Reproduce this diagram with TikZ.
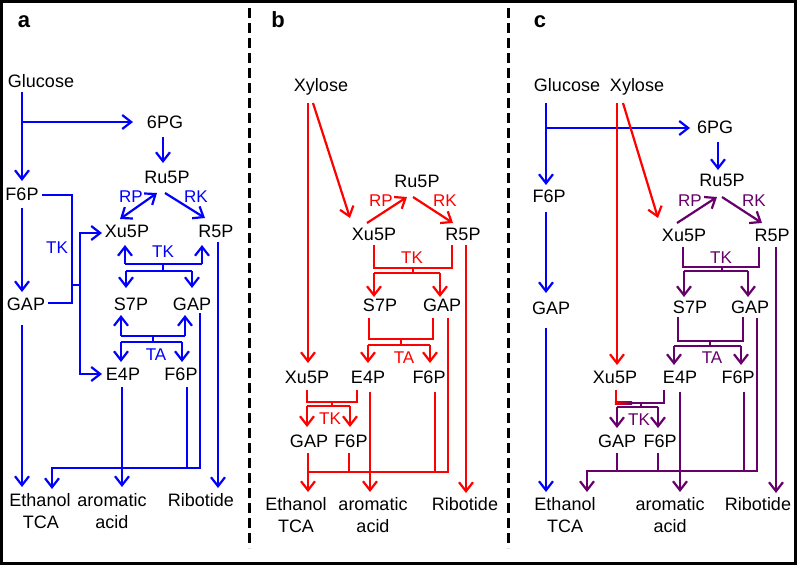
\documentclass[tikz,border=0pt]{standalone}
\usepackage{fontspec}
\setmainfont{Liberation Sans}
\usetikzlibrary{arrows.meta}
\definecolor{cb}{RGB}{0,0,255}
\definecolor{cr}{RGB}{255,0,0}
\definecolor{cp}{RGB}{102,0,106}
\begin{document}
\begin{tikzpicture}[x=1pt,y=-1pt,
  txt/.style={anchor=base, inner sep=0pt, font=\fontsize{18}{20}\selectfont},
  lbl/.style={anchor=base, inner sep=0pt, font=\fontsize{17}{19}\selectfont},
  pan/.style={anchor=base, inner sep=0pt, font=\fontsize{22}{24}\selectfont\bfseries},
  ln/.style={line width=2.2pt},
  ar/.style={ln, -{Straight Barb[length=9pt,width=14pt]}},
  arb/.style={ln, {Straight Barb[length=9pt,width=14pt]}-{Straight Barb[length=9pt,width=14pt]}},
  sep/.style={line width=3pt, dash pattern=on 10pt off 5pt}
]
\useasboundingbox (0,0) rectangle (797,566);
\fill[white] (0,0) rectangle (797,566);
\draw[line width=2.5pt] (1.5,1.5) rectangle (795.5,563.5);
\draw[sep] (249,8) -- (249,548);
\draw[sep] (508,8) -- (508,548);
\node[pan] (la) at (24,27) {a};
\node[pan] (lb) at (278,27) {b};
\node[pan] (lc) at (540,27) {c};

% ---------------- panel a ----------------
\node[txt] (aglc) at (41,87) {Glucose};
\node[txt] (a6pg) at (165,128) {6PG};
\node[txt] (aru5p) at (167,183) {Ru5P};
\node[txt] (af6p) at (22,200) {F6P};
\node[txt] (axu5p) at (127,237) {Xu5P};
\node[txt] (ar5p) at (216,237) {R5P};
\node[txt] (agap) at (26,310) {GAP};
\node[txt] (as7p) at (131,310) {S7P};
\node[txt] (agap2) at (192,310) {GAP};
\node[txt] (ae4p) at (123,380) {E4P};
\node[txt] (af6p2) at (181,380) {F6P};
\node[txt] (aeth) at (40,506) {Ethanol};
\node[txt] (atca) at (41,528) {TCA};
\node[txt] (aaro) at (112,506) {aromatic};
\node[txt] (aacid) at (112,528) {acid};
\node[txt] (arib) at (201,506) {Ribotide};
\begin{scope}[cb]
\node[lbl] (arp) at (131,202) {RP};
\node[lbl] (ark) at (196,202) {RK};
\node[lbl] (atk1) at (57,253) {TK};
\node[lbl] (atk2) at (163,257) {TK};
\node[lbl] (ata) at (156,360) {TA};
\draw[ar] (22,92) -- (22,181);
\draw[ar] (22,122) -- (133,122);
\draw[ar] (163,137) -- (163,163);
\draw[ar] (22,208) -- (22,292);
\draw[ar] (22,325) -- (22,487);
\draw[ln] (42,195) -- (72,195) -- (72,303) -- (48,303);
\draw[ln] (72,285) -- (80,285);
\draw[arb] (102,233) -- (80,233) -- (80,374) -- (102,374);
\draw[arb] (120,219) -- (157,193);
\draw[ar] (165,193) -- (205,218);
\draw[ln] (125,264) -- (202,264);
\draw[ar] (125,264) -- (125,245);
\draw[ar] (202,264) -- (202,245);
\draw[ln] (163,264) -- (163,271);
\draw[ln] (126,271) -- (192,271);
\draw[ar] (126,271) -- (126,288);
\draw[ar] (192,271) -- (192,288);
\draw[ln] (121,336) -- (185,336);
\draw[ar] (121,336) -- (121,315);
\draw[ar] (185,336) -- (185,315);
\draw[ln] (153,336) -- (153,342);
\draw[ln] (121,342) -- (182,342);
\draw[ar] (121,342) -- (121,362);
\draw[ar] (182,342) -- (182,362);
\draw[ar] (122,387) -- (122,487);
\draw[ln] (187,387) -- (187,468);
\draw[ar] (200,313) -- (200,468) -- (52,468) -- (52,489);
\draw[ar] (218,242) -- (218,488);
\end{scope}

% ---------------- panel b ----------------
\node[txt] (bxyl) at (321,91) {Xylose};
\node[txt] (bru5p) at (417,187) {Ru5P};
\node[txt] (bxu5p) at (374,240) {Xu5P};
\node[txt] (br5p) at (463,240) {R5P};
\node[txt] (bs7p) at (380,311) {S7P};
\node[txt] (bgap2) at (442,311) {GAP};
\node[txt] (bxu5p2) at (307,383) {Xu5P};
\node[txt] (be4p) at (368,383) {E4P};
\node[txt] (bf6p2) at (429,383) {F6P};
\node[txt] (bgap3) at (309,447) {GAP};
\node[txt] (bf6p3) at (351,447) {F6P};
\node[txt] (beth) at (296,510) {Ethanol};
\node[txt] (btca) at (296,532) {TCA};
\node[txt] (baro) at (373,510) {aromatic};
\node[txt] (bacid) at (373,532) {acid};
\node[txt] (brib) at (465,510) {Ribotide};
\begin{scope}[cr]
\node[lbl] (brp) at (381,206) {RP};
\node[lbl] (brk) at (445,206) {RK};
\node[lbl] (btk1) at (412,263) {TK};
\node[lbl] (bta) at (404,363) {TA};
\node[lbl] (btk2) at (330,424) {TK};
\draw[ar] (308,103) -- (308,363);
\draw[ar] (313,103) -- (350,218);
\draw[ar] (367,223) -- (407,197);
\draw[ar] (413,197) -- (453,223);
\draw[ln] (374,245) -- (374,268) -- (452,268) -- (452,245);
\draw[ln] (413,268) -- (413,273);
\draw[ln] (374,273) -- (440,273);
\draw[ar] (374,273) -- (374,297);
\draw[ar] (440,273) -- (440,297);
\draw[ar] (466,245) -- (466,493);
\draw[ln] (369,318) -- (369,339) -- (433,339) -- (433,318);
\draw[ln] (401,339) -- (401,345);
\draw[ln] (368,345) -- (430,345);
\draw[ar] (368,345) -- (368,363);
\draw[ar] (430,345) -- (430,363);
\draw[ln] (307,390) -- (307,402) -- (357,402) -- (357,390);
\draw[ln] (332,402) -- (332,406);
\draw[ln] (307,406) -- (350,406);
\draw[ar] (307,406) -- (307,427);
\draw[ar] (350,406) -- (350,427);
\draw[ar] (370,392) -- (370,492);
\draw[ln] (435,392) -- (435,472);
\draw[ar] (448,318) -- (448,472) -- (308,472) -- (308,492);
\draw[ln] (308,453) -- (308,472);
\draw[ln] (349,453) -- (349,472);
\end{scope}

% ---------------- panel c ----------------
\node[txt] (cglc) at (567,91) {Glucose};
\node[txt] (cxyl) at (637,91) {Xylose};
\node[txt] (c6pg) at (715,133) {6PG};
\node[txt] (cru5p) at (722,186) {Ru5P};
\node[txt] (cf6p) at (549,202) {F6P};
\node[txt] (cxu5p) at (684,241) {Xu5P};
\node[txt] (cr5p) at (772,241) {R5P};
\node[txt] (cgap) at (551,314) {GAP};
\node[txt] (cs7p) at (690,313) {S7P};
\node[txt] (cgap2) at (750,313) {GAP};
\node[txt] (cxu5p2) at (615,383) {Xu5P};
\node[txt] (ce4p) at (680,383) {E4P};
\node[txt] (cf6p2) at (738,383) {F6P};
\node[txt] (cgap3) at (617,447) {GAP};
\node[txt] (cf6p3) at (660,447) {F6P};
\node[txt] (ceth) at (565,510) {Ethanol};
\node[txt] (ctca) at (565,532) {TCA};
\node[txt] (caro) at (670,510) {aromatic};
\node[txt] (cacid) at (670,532) {acid};
\node[txt] (crib) at (758,510) {Ribotide};
\begin{scope}[cb]
\draw[ar] (546,103) -- (546,185);
\draw[ar] (546,128) -- (690,128);
\draw[ar] (718,142) -- (718,170);
\draw[ar] (546,212) -- (546,293);
\draw[ar] (546,328) -- (546,492);
\end{scope}
\begin{scope}[cr]
\draw[ar] (617,103) -- (617,365);
\draw[ar] (623,103) -- (658,218);
\draw[ln] (616,390) -- (616,404);
\end{scope}
\shade[left color=cr, right color=cp] (614.9,401.9) rectangle (632,404.1);
\begin{scope}[cp]
\node[lbl] (crp) at (690,206) {RP};
\node[lbl] (crk) at (754,206) {RK};
\node[lbl] (ctk1) at (721,263) {TK};
\node[lbl] (cta) at (712,363) {TA};
\node[lbl] (ctk2) at (639,425) {TK};
\draw[ar] (677,223) -- (717,197);
\draw[ar] (722,197) -- (762,223);
\draw[ln] (683,247) -- (683,267) -- (759,267) -- (759,247);
\draw[ln] (722,267) -- (722,271);
\draw[ln] (684,271) -- (748,271);
\draw[ar] (684,271) -- (684,297);
\draw[ar] (748,271) -- (748,297);
\draw[ar] (776,247) -- (776,493);
\draw[ln] (678,317) -- (678,341) -- (743,341) -- (743,317);
\draw[ln] (710,341) -- (710,346);
\draw[ln] (674,346) -- (741,346);
\draw[ar] (674,346) -- (674,365);
\draw[ar] (741,346) -- (741,365);
\draw[ln] (632,403) -- (664,403) -- (664,390);
\draw[ln] (641,403) -- (641,407);
\draw[ln] (617,407) -- (658,407);
\draw[ar] (617,407) -- (617,428);
\draw[ar] (658,407) -- (658,428);
\draw[ar] (680,392) -- (680,492);
\draw[ln] (744,392) -- (744,471);
\draw[ar] (757,318) -- (757,471) -- (587,471) -- (587,492);
\draw[ln] (617,453) -- (617,471);
\draw[ln] (658,453) -- (658,471);
\end{scope}
\end{tikzpicture}
\end{document}
